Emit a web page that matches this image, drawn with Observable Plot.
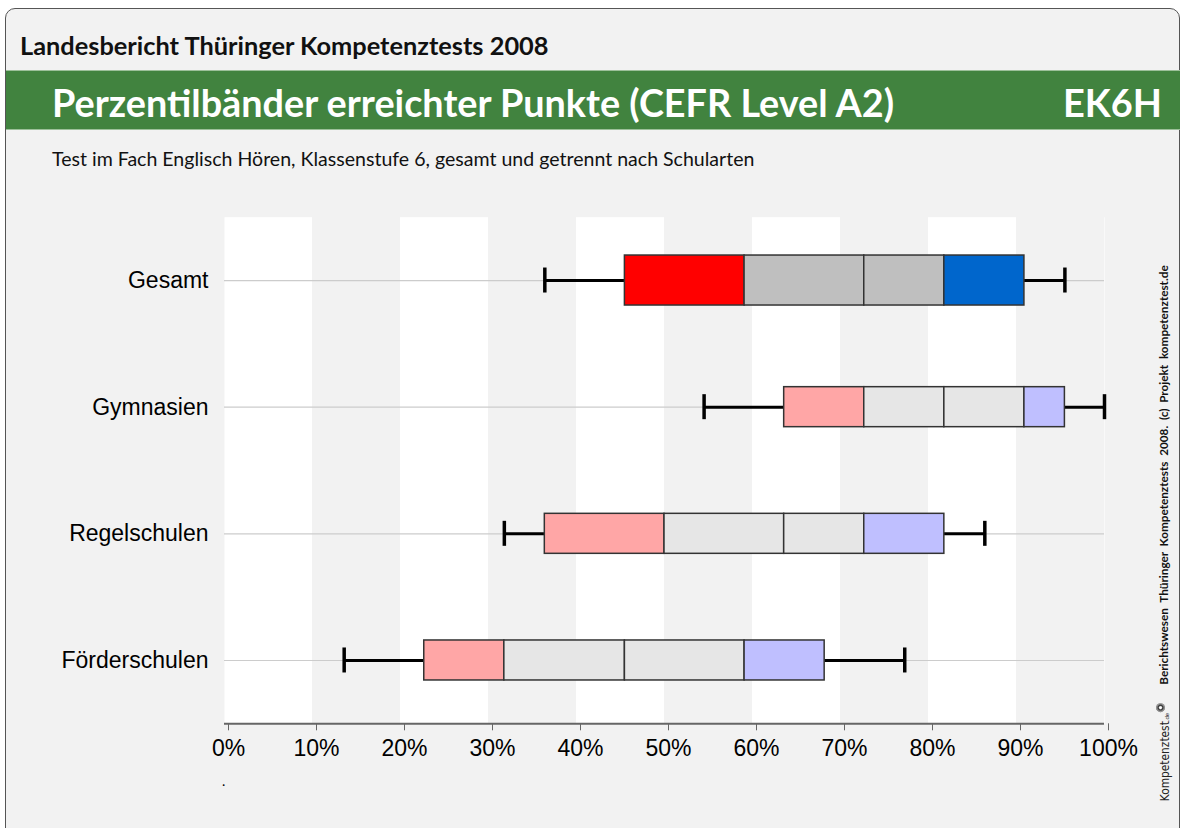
<!DOCTYPE html>
<html>
<head>
<meta charset="utf-8">
<script src="https://cdn.jsdelivr.net/npm/d3@7"></script>
<script src="https://cdn.jsdelivr.net/npm/@observablehq/plot@0.6"></script>
<style>
  html, body { margin: 0; padding: 0; background: #ffffff; }
  body { width: 1186px; height: 828px; position: relative; overflow: hidden; }
  #panel { position: absolute; left: 5px; top: 8px; width: 1175px; height: 840px; background: #f2f2f2;
           border: 1px solid #555; border-radius: 10px; box-sizing: border-box; }
  #band { position: absolute; left: 6px; top: 70px; width: 1174px; height: 60px; background: #41833f;
          border-top: 1px solid #9cc09a; border-bottom: 1px solid #9cc09a; box-sizing: border-box; }
  .t { position: absolute; white-space: nowrap; font-family: Lato, "Open Sans", sans-serif; }
  #chart { position: absolute; left: 0; top: 200px; }
  #side { position: absolute; left: 1163px; top: 475px; transform: translate(-50%, -50%) rotate(-90deg);
          font-family: Lato, sans-serif; font-weight: 700; font-size: 10.5px; white-space: nowrap; color: #111; }
  #logo { position: absolute; left: 1164px; top: 752px; transform: translate(-50%, -50%) rotate(-90deg);
          white-space: nowrap; color: #222; line-height: 1; }
  #logoText { font-family: "Liberation Sans Narrow", "DejaVu Sans Condensed", sans-serif; font-size: 14px; }
</style>
</head>
<body>
<div id="panel"></div>
<div id="band"></div>
<div class="t" id="h1" style="left:20px; top:30px; font-weight:700; color:#111;">Landesbericht Thüringer Kompetenztests 2008</div>
<div class="t" id="h2" style="left:52px; top:80px; font-weight:700; color:#fff;">Perzentilbänder erreichter Punkte (CEFR Level A2)</div>
<div class="t" id="h3" style="left:1063px; top:80px; font-weight:700; color:#fff;">EK6H</div>
<div class="t" id="h4" style="left:52px; top:147px; color:#111;">Test im Fach Englisch Hören, Klassenstufe 6, gesamt und getrennt nach Schularten</div>
<div id="chart"></div>
<div id="side">Berichtswesen&nbsp; Thüringer&nbsp; Kompetenztests&nbsp; 2008.&nbsp; (c)&nbsp; Projekt&nbsp; kompetenztest.de</div>
<div id="logo"><span id="logoText">Kompetenztest</span><span style="font-size:6px; font-family:'Liberation Sans',sans-serif">.de</span><span style="display:inline-block;width:9px;height:9px;margin-left:1px;border-radius:50%;background:radial-gradient(circle,#fff 15%,#333 35%,#999 60%,#333 80%);vertical-align:top"></span></div>
<div class="t" style="left:222px; top:772px; font-size:14px; color:#000;">.</div>
<script>
// ---- data (percent of max points) ----
const schools = ["Gesamt", "Gymnasien", "Regelschulen", "Förderschulen"];
const p5  = [36.4, 54.5, 31.8, 13.6];
const p10 = [45.5, 63.6, 36.4, 22.7];
const p25 = [59.1, 72.7, 50.0, 31.8];
const p50 = [72.7, 81.8, 63.6, 45.5];
const p75 = [81.8, 90.9, 72.7, 59.1];
const p90 = [90.9, 95.5, 81.8, 68.2];
const p95 = [95.5, 100.0, 86.4, 77.3];
const xTicks = [0, 10, 20, 30, 40, 50, 60, 70, 80, 90, 100];
const grayStripes = [10, 30, 50, 70, 90];
const mainColors = ["#ff0000", "#bfbfbf", "#bfbfbf", "#0066cc"];
const subColors  = ["#ffa6a6", "#e6e6e6", "#e6e6e6", "#bfbfff"];

// fit texts to measured widths
function fit(id, w) {
  const el = document.getElementById(id);
  const cs = getComputedStyle(el);
  const c = document.createElement("canvas").getContext("2d");
  c.font = `${cs.fontWeight} 100px ${cs.fontFamily}`;
  const m = c.measureText(el.textContent).width;
  el.style.fontSize = (100 * w / m) + "px";
}
fit("h1", 530); fit("h2", 845); fit("h3", 99); fit("h4", 703);
fit("side", 420); fit("logoText", 80);

const rowPx = 126.67;
const rows = schools.map((s, i) => ({school: s, i, p5: p5[i], p10: p10[i], p25: p25[i], p50: p50[i], p75: p75[i], p90: p90[i], p95: p95[i]}));
const segs = [];
rows.forEach(r => {
  const b = [r.p10, r.p25, r.p50, r.p75, r.p90];
  for (let k = 0; k < 4; k++) {
    segs.push({i: r.i, x1: b[k], x2: b[k + 1], fill: r.i === 0 ? mainColors[k] : subColors[k], h: (r.i === 0 ? 25 : 20) / rowPx});
  }
});
const capH = 12.5 / rowPx;

const chart = Plot.plot({
  width: 1140, height: 590,
  marginLeft: 224, marginRight: 36, marginTop: 16.7, marginBottom: 66.7,
  style: {background: "transparent", fontFamily: "'Liberation Sans', Arial, sans-serif", fontSize: "23px", color: "#000"},
  x: {domain: [0, 100], label: null},
  y: {domain: [-0.5, 3.5], reverse: true, label: null},
  marks: [
    Plot.frame({fill: "#ffffff", stroke: "none"}),
    Plot.rect(grayStripes, {x1: d => d, x2: d => d + 10, y1: -0.5, y2: 3.5, fill: "#f2f2f2"}),
    Plot.ruleY(rows, {y: "i", x1: 0, x2: 100, stroke: "#cccccc", strokeWidth: 1.2}),
    Plot.ruleY(rows, {y: "i", x1: "p5", x2: "p10", stroke: "#000", strokeWidth: 3}),
    Plot.ruleY(rows, {y: "i", x1: "p90", x2: "p95", stroke: "#000", strokeWidth: 3}),
    Plot.ruleX(rows, {x: "p5", y1: d => d.i - capH, y2: d => d.i + capH, stroke: "#000", strokeWidth: 3.5}),
    Plot.ruleX(rows, {x: "p95", y1: d => d.i - capH, y2: d => d.i + capH, stroke: "#000", strokeWidth: 3.5}),
    Plot.rect(segs, {x1: "x1", x2: "x2", y1: d => d.i - d.h, y2: d => d.i + d.h, fill: "fill", stroke: "#333", strokeWidth: 1.5}),
    Plot.ruleY([3.5], {x1: 0, x2: 100, stroke: "#666", strokeWidth: 2}),
    Plot.axisX({ticks: xTicks, tickFormat: d => d + "%", tickSize: 7, tickPadding: 9, stroke: "#666", fill: "#000", fontSize: 23, dx: 4, label: null}),
    Plot.axisY({ticks: [0, 1, 2, 3], tickFormat: i => schools[i], tickSize: 0, tickPadding: 16, fill: "#000", fontSize: 23, label: null})
  ]
});
document.getElementById("chart").appendChild(chart);
</script>
</body>
</html>
